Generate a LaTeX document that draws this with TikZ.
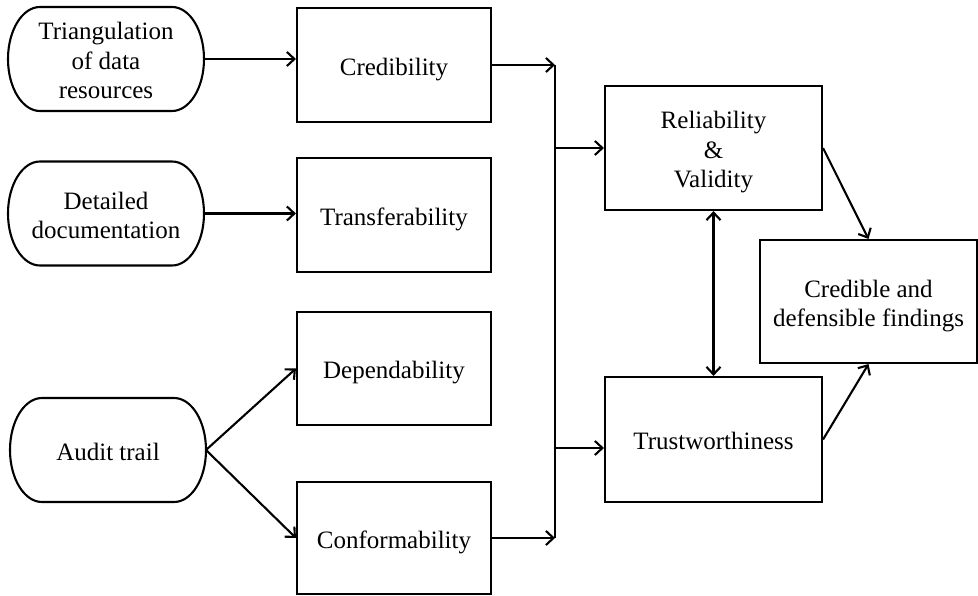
\documentclass[tikz,border=0pt]{standalone}
\usepackage{fontspec}
\setmainfont{Liberation Serif}
\usetikzlibrary{arrows.meta}
\begin{document}
\begin{tikzpicture}[x=1pt,y=1pt,
  line width=2.1pt,
  >={Straight Barb[length=7.5pt,width=14pt,line width=2.1pt]},
  every node/.style={font=\fontsize{25}{29.5}\selectfont, align=center,
    inner sep=0pt, text height=21pt, text depth=0pt},
  twolines/.style={text height=50.5pt},
  threelines/.style={text height=80pt},
  box/.style={draw, minimum width=194pt, minimum height=114pt},
  bigbox/.style={draw, minimum width=217pt, minimum height=124pt},
  source/.style={minimum width=196pt, minimum height=104pt, outer sep=0pt},
  flow/.style={->},
  twoway/.style={<->}
]
\useasboundingbox (0,0) rectangle (978,595);

% source ovals (outlines drawn below)
\node[source, threelines] (tri) at (106,536) {Triangulation\\of data\\resources};
\node[source, twolines] (det) at (106,381.5) {Detailed\\documentation};
\node[source] (aud) at (108,145) {Audit trail};

% criteria boxes
\node[box] (cred)  at (394,530)   {Credibility};
\node[box] (trans) at (394,380)   {Transferability};
\node[box, minimum height=113pt] (dep)   at (394,226.5) {Dependability};
\node[box, minimum height=112pt] (conf)  at (394,57)    {Conformability};

% outcome boxes
\node[bigbox, threelines] (rel)   at (713.5,447)   {Reliability\\\&\\Validity};
\node[bigbox, minimum height=125pt] (trust) at (713.5,155.5) {Trustworthiness};
\node[bigbox, twolines, minimum height=123pt] (fin) at (868.5,293.5) {Credible and\\defensible findings};

% stadium outlines with elliptical ends (half height 52pt)
\foreach \s in {tri,det,aud}{
  \draw ([xshift=32pt]\s.north west) -- ([xshift=-32pt]\s.north east)
    arc[start angle=90, end angle=-90, x radius=32pt, y radius=52pt]
    -- ([xshift=32pt]\s.south west)
    arc[start angle=270, end angle=90, x radius=32pt, y radius=52pt]
    -- cycle;
}

% collecting bus
\coordinate (jtop) at (555,530);
\coordinate (jbot) at (555,57);
\coordinate (jrel) at (555,447);
\coordinate (jtru) at (555,147);

% connectors
\draw[flow] (tri.east) -- (tri.east -| cred.west);
\draw[flow] (det.east) -- (det.east -| trans.west);
\draw[flow] (aud.east) -- (dep.west);
\draw[flow] (aud.east) -- (conf.west);
\draw[flow] (cred.east) -- (jtop);
\draw[flow] (conf.east) -- (jbot);
\draw (jtop) -- (jbot);
\draw[flow] (jrel) -- (rel.west);
\draw[flow] (jtru) -- (jtru -| trust.west);
\draw[twoway] (rel.south) -- (trust.north);
\draw[flow] (rel.east) -- (fin.north);
\draw[flow] (trust.east) -- (fin.south);
\end{tikzpicture}
\end{document}
